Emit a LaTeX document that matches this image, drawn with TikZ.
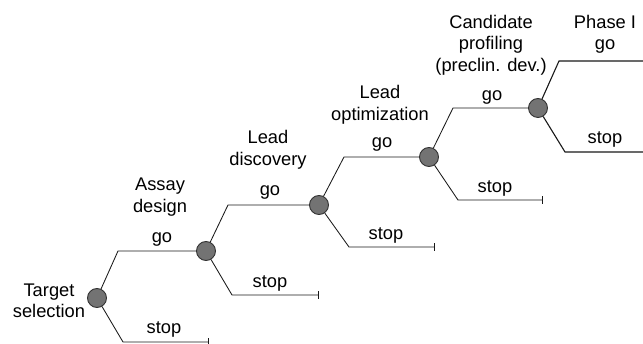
\documentclass[tikz,border=0pt]{standalone}
\usepackage{fontspec}
\setmainfont{Liberation Sans}
\usetikzlibrary{arrows,positioning,calc}
\tikzset{dec/.style={
            draw=black!80,
            fill=black!55,
            circle,
            inner sep=0pt,
            minimum size=19pt,
            line width=0.9pt
        },
        branch/.style={
            line width=0.85pt,
            black!90
        },
        stopline/.style={
            branch,
            -|
        },
        lbl/.style={
            font=\fontsize{18.3}{21.5}\selectfont,
            text=black,
            inner sep=0pt
        },
        stage/.style={
            lbl,
            align=center
        }
    }
\begin{document}
\begin{tikzpicture}[x=1pt,y=-1pt]
        \useasboundingbox (0,0) rectangle (643,344);
        % decision points
        \node[dec] at (97,298) (dec1) {};
        \node[dec] at (206,251) (dec2) {};
        \node[dec] at (319,205) (dec3) {};
        \node[dec] at (429,157) (dec4) {};
        \node[dec] at (538,108) (dec5) {};
        % corners of the branches
        \coordinate (go1) at (118,251);
        \coordinate (go2) at (228,205);
        \coordinate (go3) at (344,157);
        \coordinate (go4) at (453,108);
        \coordinate (go5) at (559,61);
        \coordinate (go5end) at (643,61);
        \coordinate (st1) at (123,342);
        \coordinate (st2) at (232,295);
        \coordinate (st3) at (349,247);
        \coordinate (st4) at (458,200);
        \coordinate (st5) at (565,152);
        \coordinate (st1end) at (209,342);
        \coordinate (st2end) at (319,295);
        \coordinate (st3end) at (435,247);
        \coordinate (st4end) at (543,200);
        \coordinate (st5end) at (643,152);
        % go branches
        \draw[branch] (dec1) -- (go1) -- (dec2);
        \draw[branch] (dec2) -- (go2) -- (dec3);
        \draw[branch] (dec3) -- (go3) -- (dec4);
        \draw[branch] (dec4) -- (go4) -- (dec5);
        \draw[branch, line width=1.1pt] (dec5) -- (go5) -- (go5end);
        % stop branches
        \draw[stopline] (dec1) -- (st1) -- (st1end);
        \draw[stopline] (dec2) -- (st2) -- (st2end);
        \draw[stopline] (dec3) -- (st3) -- (st3end);
        \draw[stopline] (dec4) -- (st4) -- (st4end);
        \draw[branch, line width=1.1pt] (dec5) -- (st5) -- (st5end);
        % stages
        \node[stage] at (49,301) (target) {Target\\selection};
        \node[stage] at (160,197) (assay) {Assay\\design};
        \node[stage] at (268,150) (discovery) {Lead\\discovery};
        \node[stage] at (380,105) (optim) {Lead\\optimization};
        \node[stage] at (491,45) (profiling) {Candidate\\profiling\\(preclin. dev.)};
        \node[stage] at (605,22) (phase) {Phase I};
        % go / stop labels
        \node[lbl] at (162,239) (golbl1) {go};
        \node[lbl] at (270,192) (golbl2) {go};
        \node[lbl] at (382,144) (golbl3) {go};
        \node[lbl] at (492,97) (golbl4) {go};
        \node[lbl] at (605,46) (golbl5) {go};
        \node[lbl] at (164,329) (stlbl1) {stop};
        \node[lbl] at (270,283) (stlbl2) {stop};
        \node[lbl] at (386,235) (stlbl3) {stop};
        \node[lbl] at (495,188) (stlbl4) {stop};
        \node[lbl] at (605,139) (stlbl5) {stop};
    \end{tikzpicture}
\end{document}
